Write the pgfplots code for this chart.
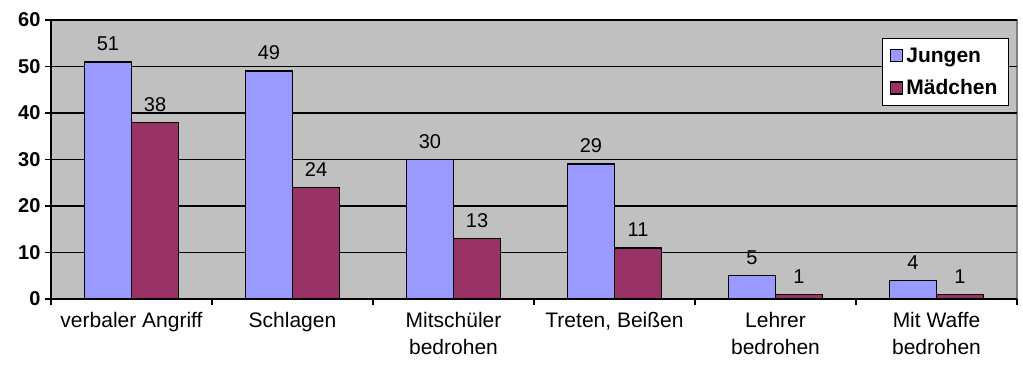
\documentclass[border=0pt]{standalone}
\usepackage{pgfplots}
\pgfplotsset{compat=1.18}
\usepackage{fontspec}
\setmainfont{Liberation Sans}
\definecolor{jungen}{HTML}{9999FF}
\definecolor{maedchen}{HTML}{993366}
\definecolor{plotbg}{HTML}{C0C0C0}
\definecolor{plotframe}{HTML}{808080}
\begin{document}
\begin{tikzpicture}[x=1pt,y=1pt]
\begin{axis}[
  scale only axis,
  width=966pt, height=279pt,
  xmin=-0.5, xmax=5.5,
  ymin=0, ymax=60,
  ytick={0,10,...,60},
  xtick={0,...,5},
  xticklabels={verbaler Angriff, Schlagen, Mitschüler\\bedrohen, {Treten, Beißen}, Lehrer\\bedrohen, Mit Waffe\\bedrohen},
  xticklabel style={align=center, font=\fontsize{21}{27}\selectfont, yshift=-4pt},
  yticklabel style={font=\fontsize{20}{22}\selectfont\bfseries, xshift=-1pt},
  /pgf/number format/assume math mode=true,
  minor xtick={-0.5,0.5,...,5.5},
  major x tick style={draw=none},
  minor x tick style={black, line width=1.5pt},
  y tick style={black, line width=1.5pt},
  tick align=outside,
  major tick length=6pt,
  minor tick length=6pt,
  axis x line*=bottom,
  axis y line*=left,
  axis line style={black, line width=1.5pt, -},
  ymajorgrids,
  major grid style={black, line width=1.2pt},
  axis background/.style={fill=plotbg, draw=plotframe, line width=1.5pt},
  ybar,
  bar width=0.292,
  nodes near coords,
  every node near coord/.append style={font=\fontsize{20}{22}\selectfont, black, yshift=7pt},
  legend style={at={(0.9917,0.935)}, anchor=north east, draw=black, line width=1.2pt, fill=white,
    font=\fontsize{21}{24}\selectfont\bfseries, row sep=12pt, inner xsep=8pt, inner ysep=7pt,
    nodes={inner xsep=3pt}},
  legend cell align=left,
  legend image code/.code={\draw[#1, draw=black, line width=1.2pt] (0pt,-6pt) rectangle (12pt,6pt);},
]
\addplot[fill=jungen, draw=black, line width=1.5pt, bar shift=-0.146] coordinates {
  (0,51) (1,49) (2,30) (3,29) (4,5) (5,4)
};
\addplot[fill=maedchen, draw=black, line width=1.5pt, bar shift=0.146] coordinates {
  (0,38) (1,24) (2,13) (3,11) (4,1) (5,1)
};
\legend{Jungen, Mädchen}
\end{axis}
\pgfresetboundingbox
\path (current axis.south west) ++(-51pt,-66pt) rectangle ([shift={(6pt,20pt)}]current axis.north east);
\end{tikzpicture}
\end{document}
